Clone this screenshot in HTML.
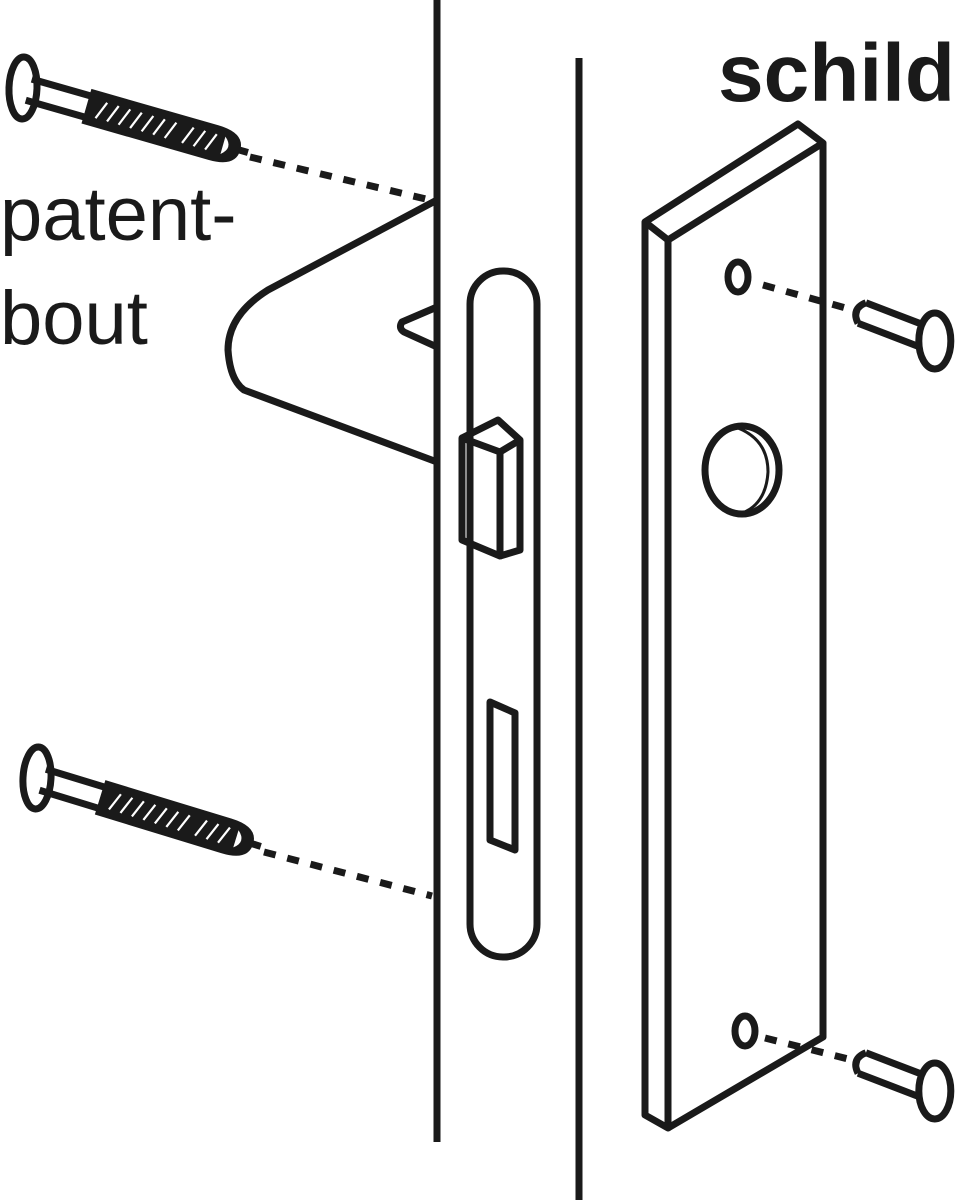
<!DOCTYPE html>
<html><head><style>body{margin:0;background:#fff}svg{display:block}</style></head>
<body>
<svg width="958" height="1200" viewBox="0 0 958 1200" xmlns="http://www.w3.org/2000/svg">
<defs>
<g id="screw">
 <ellipse cx="0" cy="0" rx="14" ry="31" fill="#fff" stroke="#1a1a1a" stroke-width="7" transform="rotate(-14)"/>
 <path d="M6 -11 L72 -11 M6 11 L72 11" stroke="#1a1a1a" stroke-width="7"/>
 <path d="M66 -18 L198 -18 Q226 -18 226 0 Q226 18 198 18 L66 18 Z" fill="#1a1a1a"/>
 <path d="M208 -9 Q219 0 208 9 Z" fill="#fff"/>
 <g stroke="#fff" stroke-width="2.2">
  <path d="M78 9 L85 -9 M90 9 L97 -9 M102 9 L109 -9 M114 9 L121 -9 M126 9 L133 -9 M138 9 L145 -9 M150 9 L157 -9 M168 9 L175 -9 M180 9 L187 -9 M192 9 L199 -9"/>
 </g>
 <path d="M224 0 L234 0" stroke="#1a1a1a" stroke-width="7"/>
</g>
<g id="pin">
 <path d="M0 -11 L70 -11 M0 11 L70 11 M0 -11 Q-12 0 0 11" stroke="#1a1a1a" stroke-width="7" fill="none"/>
 <ellipse cx="78" cy="0" rx="16" ry="28" fill="#fff" stroke="#1a1a1a" stroke-width="7" transform="rotate(-21 78 0)"/>
</g>
</defs>
<g stroke="#1a1a1a" stroke-width="7" fill="none" stroke-linejoin="round">
 <line x1="437" y1="0" x2="437" y2="1142"/>
 <line x1="579" y1="58" x2="579" y2="1200"/>
 <path d="M437 200 L268 290 Q228 315 228 350 Q230 380 244 390 L437 462"/>
 <path d="M437 307 L402 322 Q398 328 404 332 L437 347"/>
 <rect x="470" y="271" width="67" height="686" rx="33"/>
 <path d="M462 438 L500 452 L500 556 L462 540 Z"/>
 <path d="M462 438 L498 420 L520 440 L500 452"/>
 <path d="M520 440 L520 550 L500 556"/>
 <path d="M490 702 L515 713 L515 850 L490 840 Z"/>
 <path d="M645 222 L798 124 L823 143 L668 240 Z"/>
 <path d="M645 222 L645 1115 L668 1128 L668 240"/>
 <path d="M823 143 L823 1037 L668 1128"/>
 <ellipse cx="738" cy="277" rx="10" ry="15"/>
 <ellipse cx="745" cy="1031" rx="10" ry="15"/>
 <ellipse cx="742" cy="470" rx="37" ry="44"/>
 <path d="M738 428 Q768 440 768 472 Q766 505 740 514" stroke-width="3"/>
 <g stroke-dasharray="12 12">
  <line x1="250" y1="157" x2="430" y2="200"/>
  <line x1="264" y1="852" x2="432" y2="896"/>
  <line x1="763" y1="285" x2="860" y2="312"/>
  <line x1="765" y1="1038" x2="860" y2="1062"/>
 </g>
</g>
<use href="#screw" transform="translate(23 88) rotate(16)"/>
<use href="#screw" transform="translate(37 778) rotate(17)"/>
<use href="#pin" transform="translate(862 313) rotate(21)"/>
<use href="#pin" transform="translate(862 1063) rotate(21)"/>
<text x="0" y="240" font-family="Liberation Sans, sans-serif" font-size="76" fill="#1a1a1a">patent-</text>
<text x="0" y="344" font-family="Liberation Sans, sans-serif" font-size="76" fill="#1a1a1a">bout</text>
<text x="955" y="101" text-anchor="end" font-family="Liberation Sans, sans-serif" font-weight="bold" font-size="82" fill="#1a1a1a">schild</text>
</svg>
</body></html>
